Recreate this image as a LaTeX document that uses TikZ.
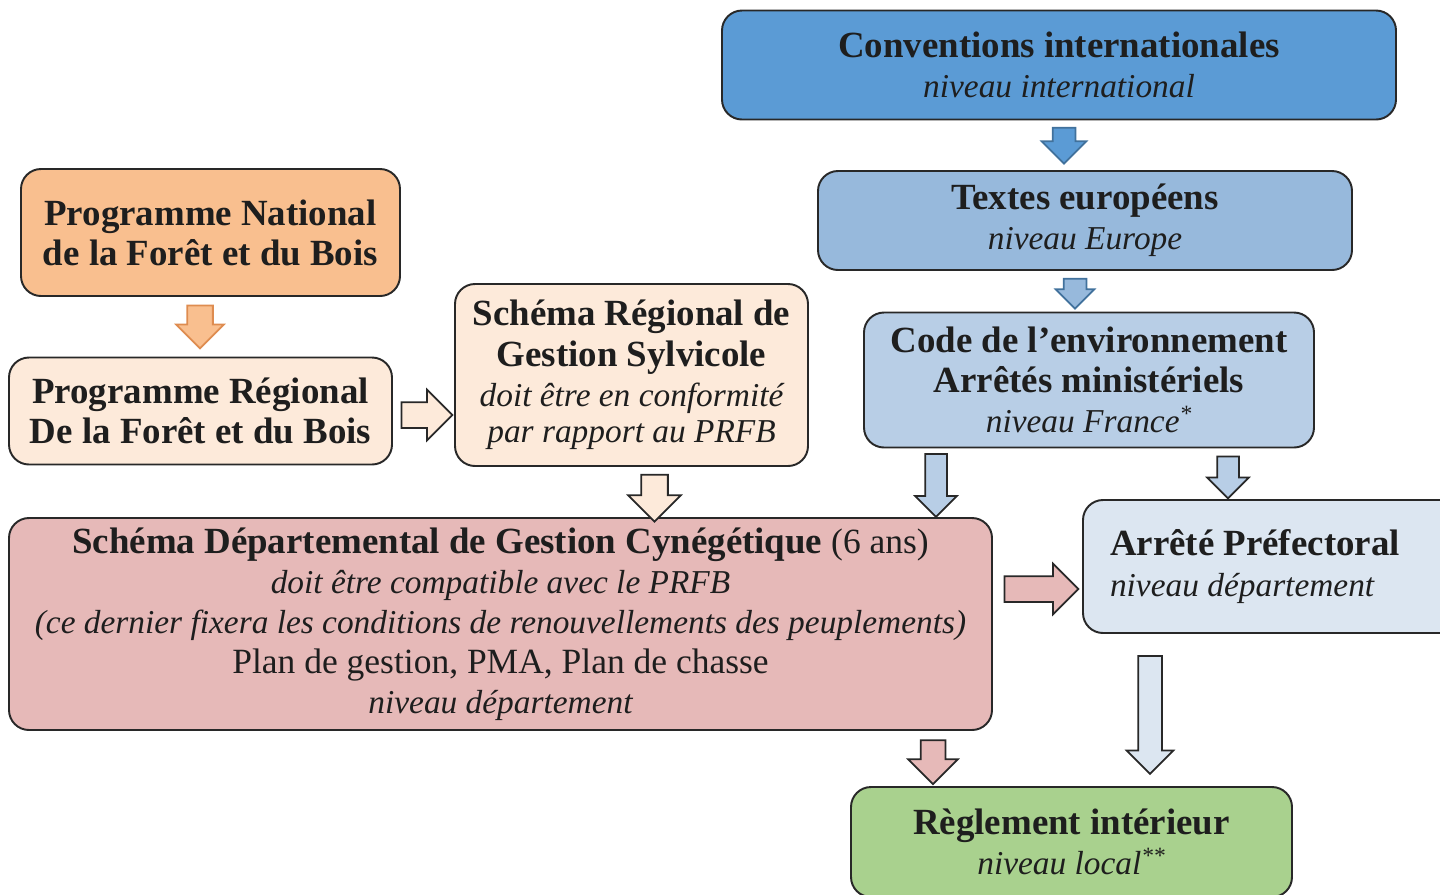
\documentclass[tikz,border=0pt]{standalone}
\usepackage{fontspec}
\setmainfont{Liberation Serif}
\usetikzlibrary{shapes.arrows}
\definecolor{txt}{RGB}{30,30,30}
\definecolor{linec}{RGB}{40,40,40}
\definecolor{bleu1}{RGB}{91,155,213}
\definecolor{bleu1d}{RGB}{65,113,156}
\definecolor{bleu2}{RGB}{151,185,220}
\definecolor{bleu3}{RGB}{184,206,230}
\definecolor{bleu4}{RGB}{220,230,241}
\definecolor{orange1}{RGB}{249,191,143}
\definecolor{orange1d}{RGB}{222,140,80}
\definecolor{peche}{RGB}{253,234,218}
\definecolor{rose}{RGB}{230,185,184}
\definecolor{vert}{RGB}{169,209,142}
\newcommand{\B}[1]{{\fontsize{21}{22.8}\selectfont\bfseries #1}}
\newcommand{\I}[1]{{\fontsize{19}{22.8}\selectfont\itshape #1}}
\tikzstyle{every picture}=[x=0.02cm, y=-0.02cm]
\tikzstyle{box}=[draw=linec, line width=1.1pt, rounded corners=0.4cm, align=center,%
	inner sep=0pt, text=txt, font=\fontsize{20.2}{22.8}\selectfont]
\tikzstyle{blk}=[single arrow, draw=linec, line width=1pt, inner xsep=0pt]
\tikzset{arr/.style n args={3}{blk, minimum height=#1*0.02cm, inner ysep=#3*0.01cm,%
	single arrow head extend={(#2-#3)*0.01cm}}}

\begin{document}
\begin{tikzpicture}
\useasboundingbox (0,0) rectangle (1440,894);
\node[box, fill=bleu1, minimum width=674*0.02cm, minimum height=109*0.02cm] (conv) at (1059,65)
	{\B{Conventions internationales}\\ \I{niveau international}};
\node[box, fill=bleu2, minimum width=534*0.02cm, minimum height=99*0.02cm] (eur) at (1085,220.5)
	{\B{Textes européens}\\ \I{niveau Europe}};
\node[box, fill=bleu3, minimum width=450*0.02cm, minimum height=135*0.02cm] (code) at (1089,380)
	{\B{Code de l’environnement}\\ \B{Arrêtés ministériels}\\ \I{niveau France\textsuperscript{*}}};
\node[box, fill=bleu4, minimum width=380*0.02cm, minimum height=133*0.02cm, text width=326*0.02cm,%
	align=flush left] (arrete) at (1273,566.5)
	{\B{Arrêté Préfectoral}\\ \I{niveau département}};
\node[box, fill=orange1, minimum width=379*0.02cm, minimum height=127*0.02cm] (pnfb) at (210.5,232.5)
	{\B{Programme National}\\ \B{de la Forêt et du Bois}};
\node[box, fill=peche, minimum width=383*0.02cm, minimum height=107*0.02cm] (prfb) at (200.5,411)
	{\B{Programme Régional}\\ \B{De la Forêt et du Bois}};
\node[box, fill=peche, minimum width=353*0.02cm, minimum height=182*0.02cm] (srgs) at (631.5,375)
	{\B{Schéma Régional de}\\ \B{Gestion Sylvicole}\\ \I{doit être en conformité}\\[-2pt]
	\I{par rapport au PRFB}};
\node[box, fill=rose, minimum width=983*0.02cm, minimum height=212*0.02cm] (sdgc) at (500.5,624)
	{\B{Schéma Départemental de Gestion Cynégétique} (6 ans)\\
	\I{doit être compatible avec le PRFB}\\
	\I{(ce dernier fixera les conditions de renouvellements des peuplements)}\\
	Plan de gestion, PMA, Plan de chasse\\ \I{niveau département}};
\node[box, fill=vert, minimum width=441*0.02cm, minimum height=110*0.02cm] (regl) at (1071.5,842)
	{\B{Règlement intérieur}\\ \I{niveau local\textsuperscript{**}}};
% fleches
\node[arr={36}{43}{21}, rotate=-90, fill=bleu1, draw=bleu1d] (a1) at (1064,140) {};
\node[arr={30}{37}{21}, rotate=-90, fill=bleu2, draw=bleu1d] (a2) at (1075,288) {};
\node[arr={43}{46}{24}, rotate=-90, fill=orange1, draw=orange1d] (a3) at (200,320.5) {};
\node[arr={51}{49}{24}, fill=peche] (a4) at (420.5,415) {};
\node[arr={47}{51}{25}, rotate=-90, fill=peche] (a5) at (654.5,491.5) {};
\node[arr={63}{40}{20}, rotate=-90, fill=bleu3] (a6) at (936,480) {};
\node[arr={42}{40}{20}, rotate=-90, fill=bleu3] (a7) at (1228,472) {};
\node[arr={74}{49}{24}, fill=rose] (a8) at (1035,589) {};
\node[arr={44}{48}{23}, rotate=-90, fill=rose] (a9) at (933,756) {};
\node[arr={118}{45}{22}, rotate=-90, fill=bleu4] (a10) at (1150,709) {};
\end{tikzpicture}
\end{document}
